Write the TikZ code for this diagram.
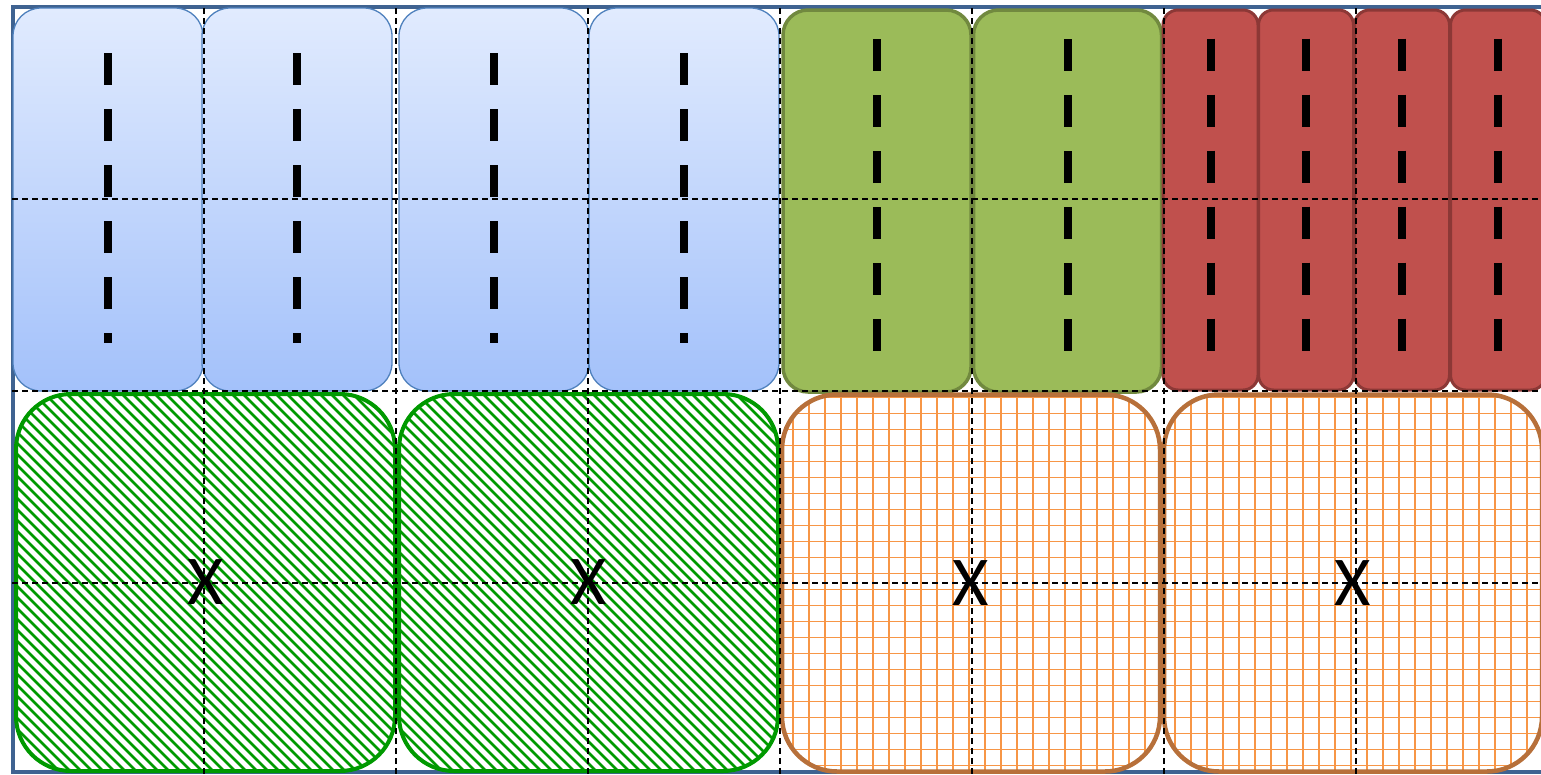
\documentclass[tikz,border=0pt]{standalone}
\usepackage{fontspec}
\setmainfont{Carlito}
\usetikzlibrary{positioning}
\definecolor{frameblue}{HTML}{3F6391}
\definecolor{edgeblue}{HTML}{4F81BD}
\definecolor{blueTop}{HTML}{E1EBFE}
\definecolor{blueBot}{HTML}{A3C1FA}
\definecolor{oliveFill}{HTML}{9BBB59}
\definecolor{oliveEdge}{HTML}{71893F}
\definecolor{brickFill}{HTML}{C0504D}
\definecolor{brickEdge}{HTML}{8C3836}
\definecolor{hatchGreen}{HTML}{009900}
\definecolor{gridOrange}{HTML}{F79646}
\definecolor{edgeOrange}{HTML}{B7703A}

\begin{document}
\begin{tikzpicture}[
    x=1pt, y=-1pt,
    every node/.style={inner sep=0pt, font=\fontsize{70}{70}\selectfont},
    bluebox/.style={draw=edgeblue, line width=1.3pt, rounded corners=28pt, top color=blueTop, bottom color=blueBot, minimum width=190pt, minimum height=383pt},
    greenbox/.style={draw=oliveEdge, line width=3.5pt, fill=oliveFill, rounded corners=25pt, minimum width=188pt, minimum height=382pt},
    redbox/.style={draw=brickEdge, line width=3pt, fill=brickFill, rounded corners=15pt, minimum width=95pt, minimum height=380pt},
    hatchbox/.style={draw=hatchGreen, line width=4pt, rounded corners=55pt, minimum width=379pt, minimum height=377pt,
        path picture={\foreach \s in {-400,-389,...,400}
            \draw[hatchGreen, line width=2.5pt] ([xshift=\s pt]path picture bounding box.north west) -- ++(420,420);}},
    gridbox/.style={draw=edgeOrange, line width=4.5pt, rounded corners=55pt, minimum width=378pt, minimum height=377pt,
        path picture={\draw[gridOrange, line width=1.8pt, step=16pt] (path picture bounding box.south west) grid (path picture bounding box.north east);}},
    lane/.style={line width=8pt, dash pattern=on 32pt off 24pt},
    guide/.style={line width=1.3pt, dash pattern=on 6pt off 4pt}
]
\useasboundingbox (0,0) rectangle (1541,774);
\draw[frameblue, line width=3.5pt] (13,7) rectangle (1548,772);

% top row
\node[bluebox] (b1) at (108,199.5) {};
\node[bluebox] (b2) at (297,199.5) {};
\node[bluebox] (b3) at (494,199.5) {};
\node[bluebox] (b4) at (684,199.5) {};
\node[greenbox] (g1) at (877,201) {};
\node[greenbox] (g2) at (1067.5,201) {};
\node[redbox] (r1) at (1210.5,200) {};
\node[redbox] (r2) at (1306,200) {};
\node[redbox] (r3) at (1402,200) {};
\node[redbox] (r4) at (1498,200) {};

\foreach \n in {b1,b2,b3,b4}
    \draw[lane] ([yshift=-46pt]\n.north) -- ([yshift=49pt]\n.south);
\foreach \n in {g1,g2}
    \draw[lane] ([yshift=-31pt]\n.north) -- ([yshift=41pt]\n.south);
\foreach \n in {r1,r2,r3,r4}
    \draw[lane] ([yshift=-30pt]\n.north) -- ([yshift=40pt]\n.south);

% bottom row
\node[hatchbox] (h1) at (205.5,582.5) {X};
\node[hatchbox] (h2) at (588.5,582.5) {X};
\node[gridbox] (o1) at (971,583) {X};
\node[gridbox] (o2) at (1353,583) {X};

% guides
\foreach \x in {204,396,588,780,972,1164,1356}
    \draw[guide] (\x,8) -- (\x,774);
\foreach \y in {199,391,583}
    \draw[guide] (12,\y) -- (1541,\y);
\end{tikzpicture}
\end{document}
